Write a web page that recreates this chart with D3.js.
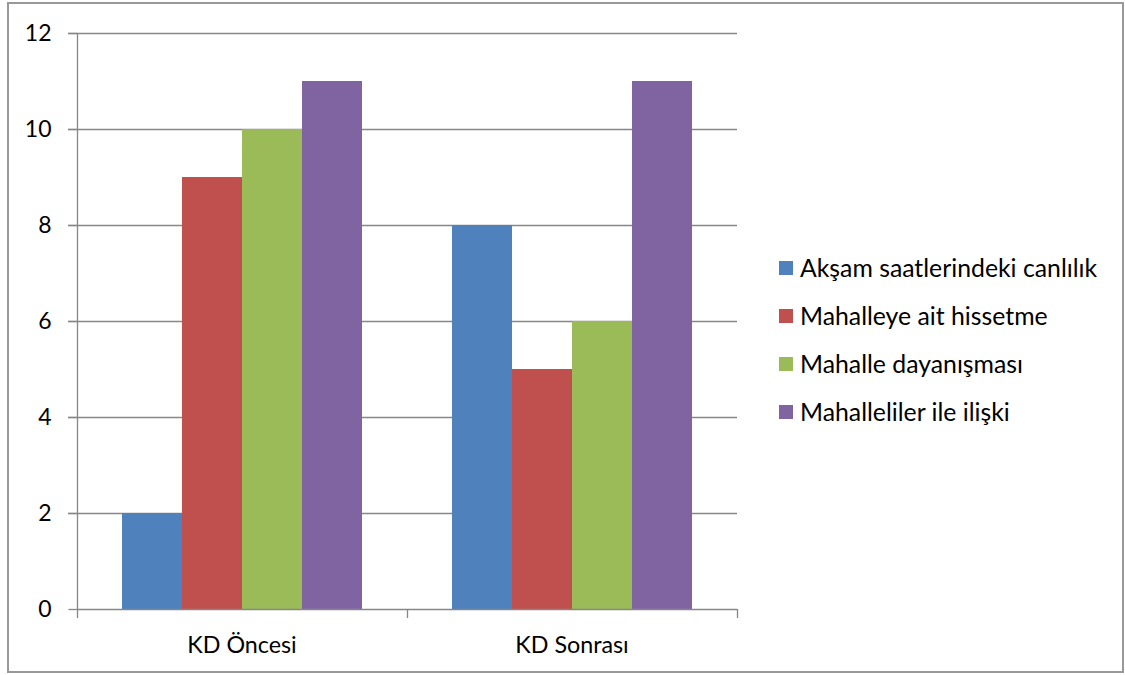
<!DOCTYPE html>
<html><head><meta charset="utf-8">
<script src="https://cdn.jsdelivr.net/npm/d3@7"></script>
<style>body{margin:0;background:#fff}svg{display:block}</style>
</head><body>
<svg id="c" width="1125" height="675"></svg>
<script>
const categories = ["KD Öncesi", "KD Sonrası"];
const seriesNames = ["Akşam saatlerindeki canlılık", "Mahalleye ait hissetme", "Mahalle dayanışması", "Mahalleliler ile ilişki"];
const akşam = [2, 8];
const aitHissetme = [9, 5];
const dayanisma = [10, 6];
const iliski = [11, 11];
const seriesValues = [akşam, aitHissetme, dayanisma, iliski];
const yTicks = [0, 2, 4, 6, 8, 10, 12];
const colors = ["#4F81BD", "#C0504D", "#9BBB59", "#8064A2"];

const svg = d3.select("#c");
const font = "Lato, 'Open Sans', sans-serif";
svg.append("rect").attr("x", 8).attr("y", 3).attr("width", 1115).attr("height", 669)
  .attr("fill", "#fff").attr("stroke", "#999").attr("stroke-width", 2);

const L = 77, R = 737, T = 33, B = 609;
const y = d3.scaleLinear().domain([0, 12]).range([B, T]);
const x0 = d3.scaleBand().domain(categories).range([L, R]).paddingInner(0).paddingOuter(0);
const inner = x0.bandwidth() * 240 / 330;
const x1 = d3.scaleBand().domain(d3.range(seriesNames.length)).range([(x0.bandwidth() - inner) / 2, (x0.bandwidth() + inner) / 2]);

// gridlines
svg.append("g").selectAll("line").data(yTicks.filter(d => d > 0)).join("line")
  .attr("x1", L - 9).attr("x2", R).attr("y1", d => Math.round(y(d)) + 0.5).attr("y2", d => Math.round(y(d)) + 0.5)
  .attr("stroke", "#868686").attr("stroke-width", 1.3);

// bars
categories.forEach((c, ci) => {
  svg.append("g").selectAll("rect").data(seriesValues.map((s, si) => ({si, v: s[ci]}))).join("rect")
    .attr("x", d => x0(c) + x1(d.si)).attr("width", x1.bandwidth())
    .attr("y", d => y(d.v)).attr("height", d => y(0) - y(d.v))
    .attr("fill", d => colors[d.si]);
});

// y axis
const yAxis = d3.axisLeft(y).tickValues(yTicks).tickSize(9).tickPadding(17);
const ga = svg.append("g").attr("transform", `translate(${L + 0.5},0)`).call(yAxis);
ga.select(".domain").attr("stroke", "#868686").attr("stroke-width", 1.3).attr("d", `M0,${T}V${B}`);
ga.selectAll(".tick line").attr("stroke", "#868686").attr("stroke-width", 1.3);
ga.selectAll(".tick text").attr("font-family", font).attr("font-size", 23).attr("fill", "#000");

// x axis
const xb = d3.axisBottom(x0).tickSize(0).tickPadding(27);
const gx = svg.append("g").attr("transform", `translate(0,${B + 0.5})`).call(xb);
gx.select(".domain").remove();
gx.selectAll(".tick text").attr("font-family", font).attr("font-size", 23.3).attr("fill", "#000");
svg.append("line").attr("x1", L).attr("x2", R).attr("y1", B + 0.5).attr("y2", B + 0.5).attr("stroke", "#868686").attr("stroke-width", 1.3);
const bounds = [L, x0(categories[1]), R];
svg.append("g").selectAll("line").data(bounds).join("line")
  .attr("x1", d => d + 0.5).attr("x2", d => d + 0.5).attr("y1", B).attr("y2", B + 9)
  .attr("stroke", "#868686").attr("stroke-width", 1.3);

// legend
const lg = svg.append("g").selectAll("g").data(seriesNames).join("g")
  .attr("transform", (d, i) => `translate(779,${268 + i * 48})`);
lg.append("rect").attr("x", 0).attr("y", -7).attr("width", 14).attr("height", 14).attr("fill", (d, i) => colors[i]);
lg.append("text").attr("x", 21).attr("y", 0).attr("dy", "0.35em").attr("font-family", font).attr("font-size", 24.8)
  .attr("fill", "#000").text(d => d);
</script>
</body></html>
